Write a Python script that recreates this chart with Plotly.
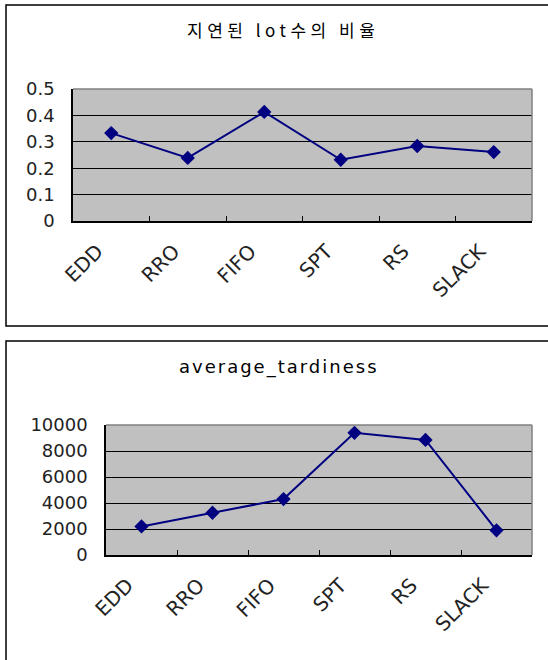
import plotly.graph_objects as go

categories = ["EDD", "RRO", "FIFO", "SPT", "RS", "SLACK"]
late_ratio = [0.333, 0.239, 0.413, 0.232, 0.284, 0.261]
avg_tardiness = [2200, 3250, 4300, 9400, 8850, 1900]
title_top = "지연된 lot수의 비율"
title_bottom = "average_tardiness"

W, H = 548, 660
NAVY = "#000080"
FONT = "DejaVu Sans"

def px_x(x):
    return x / W

def px_y(y):
    return 1 - y / H

fig = go.Figure()
fig.add_trace(go.Scatter(x=categories, y=late_ratio, mode="lines+markers",
                         line=dict(color=NAVY, width=2),
                         marker=dict(symbol="diamond", size=11, color=NAVY),
                         xaxis="x", yaxis="y", showlegend=False))
fig.add_trace(go.Scatter(x=categories, y=avg_tardiness, mode="lines+markers",
                         line=dict(color=NAVY, width=2),
                         marker=dict(symbol="diamond", size=11, color=NAVY),
                         xaxis="x2", yaxis="y2", showlegend=False))

xcommon = dict(type="category", range=[-0.5, 5.5], showgrid=False, automargin=False,
               showline=True, linecolor="black", linewidth=1.5,
               ticks="inside", ticklen=5, tickcolor="black", tickson="boundaries",
               tickangle=-45, tickfont=dict(family=FONT, size=20, color="#222"),
               ticklabelstandoff=9, ticklabelshift=-14, fixedrange=True)
ycommon = dict(showgrid=True, gridcolor="black", gridwidth=1, zeroline=False, automargin=False,
               showline=True, linecolor="black", linewidth=1.5,
               ticks="inside", ticklen=5, tickcolor="black",
               tickfont=dict(family=FONT, size=18, color="#222"),
               ticklabelstandoff=13, fixedrange=True)

fig.update_layout(
    width=W, height=H, autosize=False,
    margin=dict(l=0, r=0, t=0, b=0, pad=0),
    paper_bgcolor="white", plot_bgcolor="#C0C0C0",
    xaxis=dict(domain=[px_x(73), px_x(532)], anchor="y", **xcommon),
    yaxis=dict(domain=[px_y(221), px_y(89)], anchor="x", range=[0, 0.5], dtick=0.1, **ycommon),
    xaxis2=dict(domain=[px_x(106), px_x(532)], anchor="y2", **xcommon),
    yaxis2=dict(domain=[px_y(555), px_y(425)], anchor="x2", range=[0, 10000], dtick=2000,
                tickformat="d", **ycommon),
)

shapes = []
for xa, ya in (("x", "y"), ("x2", "y2")):
    shapes.append(dict(type="line", xref=f"{xa} domain", yref=f"{ya} domain",
                       x0=0, x1=1, y0=1, y1=1, line=dict(color="#808080", width=1.5), layer="above"))
    shapes.append(dict(type="line", xref=f"{xa} domain", yref=f"{ya} domain",
                       x0=1, x1=1, y0=0, y1=1, line=dict(color="#808080", width=1.5), layer="above"))
shapes.append(dict(type="rect", xref="paper", yref="paper",
                   x0=px_x(6), x1=px_x(560), y0=px_y(326), y1=px_y(5),
                   line=dict(color="black", width=1.5)))
shapes.append(dict(type="rect", xref="paper", yref="paper",
                   x0=px_x(6), x1=px_x(560), y0=px_y(680), y1=px_y(341),
                   line=dict(color="black", width=1.5)))
fig.update_layout(shapes=shapes)

fig.add_annotation(text=title_top, x=px_x(283), y=px_y(30), xref="paper", yref="paper",
                   showarrow=False, xanchor="center", yanchor="middle",
                   font=dict(family="Noto Sans CJK KR", size=17, color="black"))
fig.add_annotation(text=title_bottom, x=px_x(279), y=px_y(367), xref="paper", yref="paper",
                   showarrow=False, xanchor="center", yanchor="middle",
                   font=dict(family=FONT, size=18, color="black"))

post = """
(function(){
  function sp(){
    var gd = document.getElementById('{plot_id}');
    var t = gd.querySelectorAll('.annotation-text');
    if (t.length > 0) { t[0].style.letterSpacing = '4.5px'; }
    if (t.length > 1) { t[1].style.letterSpacing = '2px'; }
  }
  document.body.style.margin = '0';
  document.body.style.overflow = 'hidden';
  document.documentElement.style.overflow = 'hidden';
  sp(); setTimeout(sp, 50); setTimeout(sp, 300);
})();
"""
fig.write_html("out.html", config={"displayModeBar": False}, post_script=post)
